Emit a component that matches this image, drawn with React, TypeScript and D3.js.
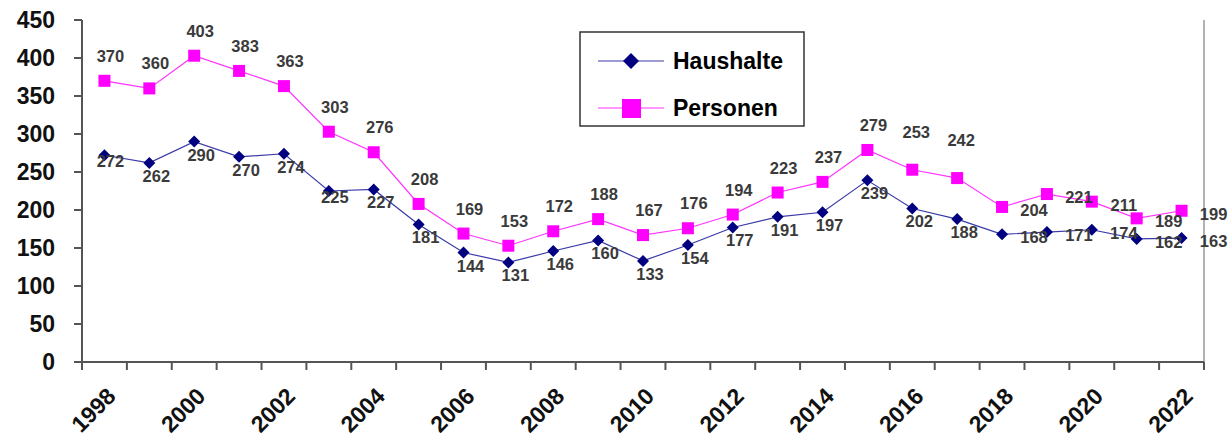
import React from "react";
import * as d3 from "d3";

const years = [
  "1998", "1999", "2000", "2001", "2002", "2003", "2004", "2005", "2006",
  "2007", "2008", "2009", "2010", "2011", "2012", "2013", "2014", "2015",
  "2016", "2017", "2018", "2019", "2020", "2021", "2022",
];
const haushalte = [
  272, 262, 290, 270, 274, 225, 227, 181, 144, 131, 146, 160, 133, 154, 177,
  191, 197, 239, 202, 188, 168, 171, 174, 162, 163,
];
const personen = [
  370, 360, 403, 383, 363, 303, 276, 208, 169, 153, 172, 188, 167, 176, 194,
  223, 237, 279, 253, 242, 204, 221, 211, 189, 199,
];
// where each value label sits relative to its marker
const haushalteLabelPos = [
  "on", "below", "below", "below", "below", "on", "below", "below", "below",
  "below", "below", "below", "below", "below", "below", "below", "below",
  "below", "below", "below", "right", "right", "right", "right", "right",
];
const personenLabelPos = [
  "above", "above", "above", "above", "above", "above", "above", "above",
  "above", "above", "above", "above", "above", "above", "above", "above",
  "above", "above", "high", "high", "right", "right", "right", "right", "right",
];
const yTicks = [0, 50, 100, 150, 200, 250, 300, 350, 400, 450];
const xLabelYears = ["1998", "2000", "2002", "2004", "2006", "2008", "2010", "2012", "2014", "2016", "2018", "2020", "2022"];

const W = 1228;
const H = 439;
const left = 82;
const right = 1204;
const top = 20;
const bottom = 362;
const FONT = "'Liberation Sans', Arial, sans-serif";

const offsets: Record<string, [number, number]> = {
  above: [6, -25],
  high: [4, -38],
  on: [6, 6],
  below: [7, 13],
  right: [32, 3],
};

export default function App() {
  const x = d3.scaleBand<string>().domain(years).range([left, right]);
  const y = d3.scaleLinear().domain([0, 450]).range([bottom, top]);
  const cx = (yr: string) => (x(yr) ?? 0) + x.bandwidth() / 2;

  const line = d3
    .line<number>()
    .x((_, i) => cx(years[i]))
    .y((d) => y(d));

  const diamond = (s: number) => `M0,${-s}L${s},0L0,${s}L${-s},0Z`;
  const tickPositions = years.map((yr) => x(yr) ?? 0).concat([right]);

  const valueLabel = (key: string, v: number, i: number, pos: string) => {
    const [dx, dy] = offsets[pos];
    return (
      <text
        key={key}
        x={cx(years[i]) + dx}
        y={y(v) + dy}
        textAnchor="middle"
        dominantBaseline="central"
        fontSize={16.5}
        fontWeight="bold"
        fill="#3a3a3a"
      >
        {v}
      </text>
    );
  };

  return (
    <svg
      width={W}
      height={H}
      style={{ position: "absolute", left: 0, top: 0, background: "#fff" }}
      fontFamily={FONT}
    >
      {/* right border of plot area */}
      <line x1={right} x2={right} y1={top} y2={bottom} stroke="#9a9a9a" strokeWidth={1.5} />

      {/* y axis */}
      <line x1={left} x2={left} y1={top} y2={bottom} stroke="#555" strokeWidth={2} />
      {yTicks.map((t) => (
        <g key={t}>
          <line x1={left - 8} x2={left} y1={y(t)} y2={y(t)} stroke="#555" strokeWidth={2} />
          <text
            x={left - 27}
            y={y(t)}
            textAnchor="end"
            dominantBaseline="central"
            fontSize={23}
            fontWeight="bold"
            fill="#111"
          >
            {t}
          </text>
        </g>
      ))}

      {/* x axis */}
      <line x1={left} x2={right} y1={bottom} y2={bottom} stroke="#555" strokeWidth={2} />
      {tickPositions.map((p, i) => (
        <line key={i} x1={p} x2={p} y1={bottom} y2={bottom + 8} stroke="#555" strokeWidth={2} />
      ))}
      {xLabelYears.map((yr) => (
        <text
          key={yr}
          transform={`translate(${cx(yr) + 7},${bottom + 30}) rotate(-45)`}
          textAnchor="end"
          dominantBaseline="central"
          fontSize={23}
          fontWeight="bold"
          fill="#111"
        >
          {yr}
        </text>
      ))}

      {/* Haushalte */}
      <path d={line(haushalte) ?? ""} fill="none" stroke="#3a3aa8" strokeWidth={1.2} />
      {haushalte.map((v, i) => (
        <path key={i} d={diamond(6)} transform={`translate(${cx(years[i])},${y(v)})`} fill="#000080" />
      ))}

      {/* Personen */}
      <path d={line(personen) ?? ""} fill="none" stroke="#ff33ff" strokeWidth={1.2} />
      {personen.map((v, i) => (
        <rect key={i} x={cx(years[i]) - 6} y={y(v) - 6} width={12} height={12} fill="#ff00ff" />
      ))}

      {/* value labels */}
      {haushalte.map((v, i) => valueLabel("h" + i, v, i, haushalteLabelPos[i]))}
      {personen.map((v, i) => valueLabel("p" + i, v, i, personenLabelPos[i]))}

      {/* legend */}
      <g>
        <rect x={580} y={32} width={224} height={94} fill="#fff" stroke="#333" strokeWidth={1.5} />
        <line x1={598} x2={664} y1={61} y2={61} stroke="#3a3aa8" strokeWidth={1.2} />
        <path d={diamond(8)} transform="translate(631,61)" fill="#000080" />
        <text x={673} y={61} dominantBaseline="central" fontSize={23} fontWeight="bold" fill="#000">
          Haushalte
        </text>
        <line x1={598} x2={664} y1={108} y2={108} stroke="#ff33ff" strokeWidth={1.2} />
        <rect x={622} y={99} width={19} height={19} fill="#ff00ff" />
        <text x={673} y={108} dominantBaseline="central" fontSize={23} fontWeight="bold" fill="#000">
          Personen
        </text>
      </g>
    </svg>
  );
}
